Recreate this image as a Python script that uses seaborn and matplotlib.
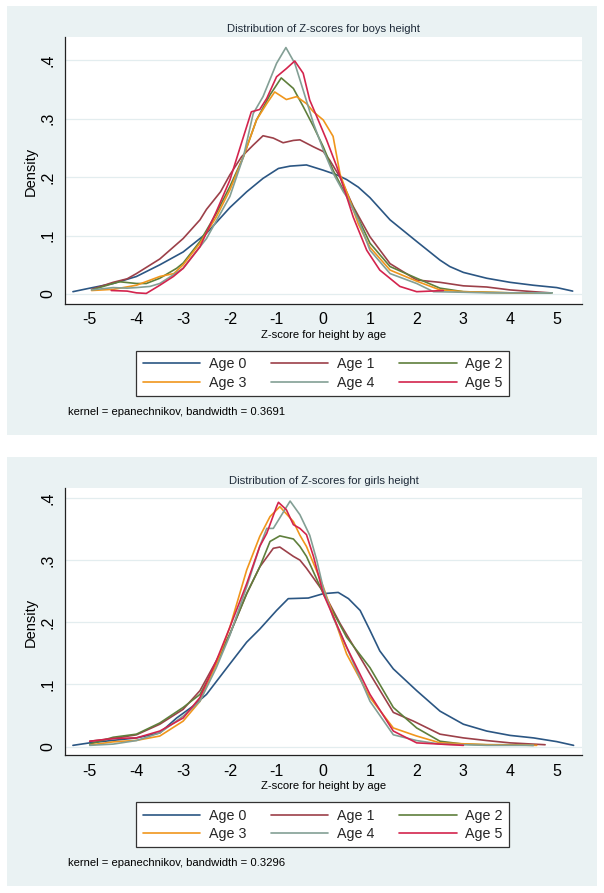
import matplotlib
matplotlib.use("Agg")
import matplotlib.pyplot as plt
from matplotlib.patches import Rectangle
from matplotlib.lines import Line2D
import seaborn as sns
import pandas as pd

# ---------------- data ----------------
ages = ["Age 0", "Age 1", "Age 2", "Age 3", "Age 4", "Age 5"]
colors = ["#2b5683", "#9c4049", "#5f7f3c", "#f0961c", "#839f95", "#d3244d"]
x_ticks = [-5, -4, -3, -2, -1, 0, 1, 2, 3, 4, 5]
y_ticks = [0, 0.1, 0.2, 0.3, 0.4]
y_tick_labels = ["0", ".1", ".2", ".3", ".4"]

# boys
b0_x = [-5.36, -5, -4.5, -4, -3.5, -3, -2.5, -2, -1.64, -1.29, -0.96, -0.71, -0.36, 0, 0.29, 0.5, 0.75, 1.0, 1.43, 2, 2.5, 2.71, 3, 3.5, 4, 4.5, 5, 5.34]
b0_y = [0.004, 0.010, 0.018, 0.030, 0.050, 0.072, 0.104, 0.148, 0.175, 0.198, 0.215, 0.219, 0.221, 0.212, 0.204, 0.196, 0.183, 0.165, 0.127, 0.090, 0.058, 0.047, 0.037, 0.027, 0.020, 0.015, 0.011, 0.005]
b1_x = [-4.96, -4.5, -4.2, -4, -3.5, -3, -2.64, -2.5, -2.2, -2, -1.75, -1.5, -1.29, -1.07, -0.86, -0.64, -0.5, -0.21, 0, 0.14, 0.36, 0.64, 1, 1.43, 2, 2.5, 3, 3.5, 4, 4.5, 4.86]
b1_y = [0.008, 0.020, 0.026, 0.035, 0.060, 0.095, 0.127, 0.145, 0.175, 0.204, 0.235, 0.255, 0.271, 0.267, 0.259, 0.263, 0.264, 0.252, 0.244, 0.229, 0.200, 0.150, 0.098, 0.052, 0.024, 0.020, 0.014, 0.012, 0.007, 0.004, 0.002]
b2_x = [-4.96, -4.5, -4.36, -4, -3.79, -3.5, -3.14, -3, -2.64, -2.29, -2, -1.71, -1.43, -1.14, -0.9, -0.64, -0.43, -0.21, 0, 0.21, 0.43, 0.5, 1, 1.43, 2, 2.5, 3, 3.5, 4, 4.5, 4.9]
b2_y = [0.007, 0.018, 0.021, 0.018, 0.018, 0.027, 0.044, 0.053, 0.090, 0.138, 0.184, 0.235, 0.298, 0.341, 0.370, 0.352, 0.321, 0.287, 0.252, 0.212, 0.178, 0.172, 0.087, 0.047, 0.027, 0.010, 0.004, 0.003, 0.002, 0.002, 0.002]
b3_x = [-4.96, -4.5, -4, -3.5, -3.2, -3, -2.64, -2.29, -2, -1.71, -1.43, -1.21, -1.04, -0.79, -0.57, -0.36, -0.21, 0, 0.21, 0.36, 0.57, 0.75, 1, 1.43, 2, 2.5, 3, 3.5, 4, 4.5]
b3_y = [0.006, 0.008, 0.015, 0.030, 0.035, 0.050, 0.087, 0.132, 0.178, 0.235, 0.298, 0.326, 0.346, 0.333, 0.338, 0.326, 0.312, 0.298, 0.270, 0.205, 0.160, 0.120, 0.080, 0.041, 0.022, 0.007, 0.004, 0.003, 0.002, 0.002]
b4_x = [-4.96, -4.5, -4.2, -4, -3.71, -3.5, -3.21, -3, -2.5, -2, -1.71, -1.5, -1.29, -1.0, -0.8, -0.61, -0.43, -0.21, 0, 0.21, 0.43, 0.5, 0.75, 1, 1.43, 2, 2.36, 3, 3.5, 4, 4.5, 4.9]
b4_y = [0.007, 0.011, 0.010, 0.011, 0.013, 0.018, 0.033, 0.044, 0.095, 0.167, 0.235, 0.309, 0.338, 0.395, 0.422, 0.395, 0.349, 0.292, 0.247, 0.207, 0.175, 0.167, 0.127, 0.075, 0.035, 0.018, 0.004, 0.003, 0.002, 0.002, 0.002, 0.002]
b5_x = [-4.54, -4.2, -4, -3.79, -3.5, -3.21, -3, -2.64, -2.29, -2, -1.71, -1.54, -1.36, -1.21, -1.0, -0.79, -0.61, -0.43, -0.29, -0.14, 0.07, 0.29, 0.5, 0.64, 0.93, 1.21, 1.64, 2, 2.3, 2.57]
b5_y = [0.006, 0.005, 0.002, 0.001, 0.015, 0.030, 0.044, 0.081, 0.141, 0.195, 0.269, 0.312, 0.316, 0.335, 0.372, 0.386, 0.399, 0.378, 0.332, 0.304, 0.264, 0.218, 0.167, 0.132, 0.075, 0.041, 0.013, 0.004, 0.005, 0.006]

# girls
g0_x = [-5.36, -5, -4.5, -4, -3.5, -3.14, -2.79, -2.5, -2, -1.64, -1.36, -1, -0.75, -0.32, 0, 0.32, 0.54, 0.79, 1, 1.21, 1.5, 2, 2.5, 3, 3.5, 4, 4.5, 5, 5.36]
g0_y = [0.002, 0.006, 0.010, 0.014, 0.022, 0.046, 0.065, 0.084, 0.133, 0.168, 0.189, 0.219, 0.238, 0.239, 0.246, 0.248, 0.238, 0.219, 0.187, 0.154, 0.125, 0.090, 0.057, 0.036, 0.025, 0.018, 0.014, 0.008, 0.002]
g1_x = [-5, -4.5, -4, -3.5, -3, -2.64, -2.29, -2, -1.64, -1.36, -1.07, -0.93, -0.64, -0.5, -0.36, 0, 0.36, 1, 1.5, 1.93, 2.5, 3, 3.5, 4, 4.75]
g1_y = [0.0086, 0.013, 0.019, 0.036, 0.060, 0.090, 0.138, 0.181, 0.246, 0.289, 0.319, 0.321, 0.306, 0.300, 0.287, 0.249, 0.198, 0.117, 0.055, 0.041, 0.020, 0.014, 0.0097, 0.006, 0.003]
g2_x = [-5, -4.5, -4, -3.5, -3, -2.64, -2.29, -2, -1.64, -1.36, -1.14, -0.93, -0.64, -0.5, -0.36, 0, 0.5, 1, 1.5, 2, 2.5, 3, 3.5, 4, 4.5]
g2_y = [0.004, 0.015, 0.020, 0.038, 0.063, 0.084, 0.133, 0.181, 0.246, 0.289, 0.330, 0.339, 0.334, 0.322, 0.306, 0.246, 0.176, 0.127, 0.063, 0.030, 0.0086, 0.004, 0.003, 0.003, 0.002]
g3_x = [-4.96, -4.5, -4, -3.5, -3, -2.64, -2.29, -2, -1.64, -1.36, -1.14, -0.93, -0.64, -0.5, -0.36, 0, 0.5, 1, 1.5, 2, 2.5, 3.5, 4.57]
g3_y = [0.003, 0.0076, 0.010, 0.017, 0.041, 0.073, 0.133, 0.192, 0.284, 0.338, 0.370, 0.386, 0.362, 0.340, 0.322, 0.257, 0.149, 0.079, 0.030, 0.017, 0.006, 0.003, 0.002]
g4_x = [-5, -4.5, -4, -3.5, -3, -2.64, -2.29, -2, -1.64, -1.36, -1.21, -1.07, -0.93, -0.71, -0.5, -0.29, -0.14, 0, 0.21, 0.5, 1, 1.5, 2, 2.5, 3.5, 4.5]
g4_y = [0.002, 0.004, 0.0097, 0.022, 0.049, 0.073, 0.127, 0.179, 0.257, 0.322, 0.351, 0.351, 0.368, 0.395, 0.373, 0.340, 0.300, 0.255, 0.208, 0.160, 0.073, 0.019, 0.0097, 0.004, 0.002, 0.002]
g5_x = [-5, -4.5, -4, -3.5, -3, -2.64, -2.29, -2, -1.64, -1.36, -1.21, -1.0, -0.96, -0.79, -0.64, -0.5, -0.36, -0.21, 0, 0.5, 1, 1.5, 2, 3]
g5_y = [0.0086, 0.013, 0.014, 0.025, 0.046, 0.079, 0.138, 0.192, 0.262, 0.322, 0.343, 0.386, 0.393, 0.381, 0.357, 0.351, 0.341, 0.306, 0.246, 0.160, 0.084, 0.025, 0.006, 0.002]

boys_x = [b0_x, b1_x, b2_x, b3_x, b4_x, b5_x]
boys_y = [b0_y, b1_y, b2_y, b3_y, b4_y, b5_y]
girls_x = [g0_x, g1_x, g2_x, g3_x, g4_x, g5_x]
girls_y = [g0_y, g1_y, g2_y, g3_y, g4_y, g5_y]

titles = ["Distribution of Z-scores for boys height", "Distribution of Z-scores for girls height"]
x_label = "Z-score for height by age"
y_label = "Density"
notes = ["kernel = epanechnikov, bandwidth = 0.3691", "kernel = epanechnikov, bandwidth = 0.3296"]

# ---------------- figure ----------------
sns.set_style("white")
plt.rcParams["font.family"] = ["Liberation Sans", "DejaVu Sans"]

W, H = 604, 893
fig = plt.figure(figsize=(W / 100, H / 100), dpi=100)
fig.patch.set_facecolor("white")

def fx(px):
    return px / W

def fy(py):
    return 1 - py / H

BG = "#eaf2f3"
TXT = "#1e2a38"

def draw_panel(off, xs_list, ys_list, ylim, title, note):
    # panel background
    fig.patches.append(Rectangle((fx(6.7), fy(435 + off)), fx(590), (435 - 6) / H,
                                 transform=fig.transFigure, facecolor=BG, edgecolor="none", zorder=-10))
    top, bot = 36.7 + off, 304 + off
    ax = fig.add_axes([fx(65), fy(bot), fx(582 - 65), (bot - top) / H])
    ax.set_zorder(1)
    ax.set_facecolor("white")
    frames = []
    for name, xs, ys in zip(ages, xs_list, ys_list):
        frames.append(pd.DataFrame({"z": xs, "density": ys, "age": name}))
    df = pd.concat(frames, ignore_index=True)
    sns.lineplot(data=df, x="z", y="density", hue="age", hue_order=ages, palette=colors,
                 estimator=None, sort=False, linewidth=1.2, legend=False, ax=ax)
    ax.set_xlim(-5.53, 5.54)
    ax.set_ylim(*ylim)
    ax.set_xticks(x_ticks)
    ax.set_xticklabels([str(t) for t in x_ticks])
    ax.set_yticks(y_ticks)
    ax.set_yticklabels(y_tick_labels, rotation=90, va="center")
    ax.set_xlabel("")
    ax.set_ylabel("")
    ax.yaxis.grid(True, color="#e3edef", linewidth=0.9)
    ax.xaxis.grid(False)
    ax.set_axisbelow(True)
    for s in ["top", "right"]:
        ax.spines[s].set_visible(False)
    for s in ["left", "bottom"]:
        ax.spines[s].set_color("#222222")
        ax.spines[s].set_linewidth(0.9)
    ax.tick_params(axis="both", direction="out", length=3.5, width=0.8, color="#222222",
                   labelsize=11.5, labelcolor="black", pad=2.5)
    ax.tick_params(axis="y", pad=3.5)
    # texts
    fig.text(fx(323.5), fy(29.3 + off), title, ha="center", va="center", fontsize=8.1, color=TXT)
    fig.text(fx(323.5), fy(335 + off), x_label, ha="center", va="center", fontsize=8.1, color="black")
    fig.text(fx(31), fy(171 + off), y_label, ha="center", va="center", rotation=90, fontsize=10.5, color="black")
    fig.text(fx(68), fy(411.7 + off), note, ha="left", va="center", fontsize=8.1, color="black")
    # legend
    handles = [Line2D([0], [0], color=c, lw=1.2) for c in colors]
    order = [0, 3, 1, 4, 2, 5]
    leg = fig.legend([handles[i] for i in order], [ages[i] for i in order],
                     loc="center", bbox_to_anchor=(fx(322.7), fy(373.4 + off)), ncol=3,
                     frameon=True, fancybox=False, framealpha=1, edgecolor="#333333",
                     prop={"size": 10.3}, handlelength=4.0, handletextpad=0.6,
                     columnspacing=1.75, borderpad=0.45, labelspacing=0.3, borderaxespad=0)
    leg.get_frame().set_linewidth(0.9)
    return ax

draw_panel(0, boys_x, boys_y, (-0.0171, 0.4406), titles[0], notes[0])
draw_panel(451.3, girls_x, girls_y, (-0.014, 0.416), titles[1], notes[1])

fig.savefig("out.png", dpi=100, facecolor="white")
